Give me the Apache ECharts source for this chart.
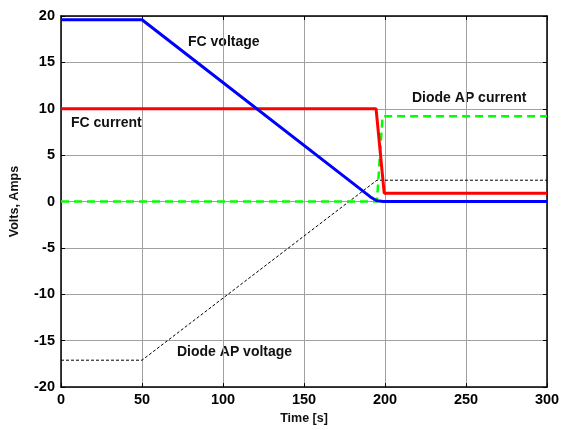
<!DOCTYPE html>
<html>
<head>
<meta charset="utf-8">
<script src="https://cdn.jsdelivr.net/npm/echarts@6/dist/echarts.min.js"></script>
<style>html,body{margin:0;padding:0;background:#fff}#c{width:566px;height:430px}</style>
</head>
<body>
<div id="c"></div>
<script>
var xTicks = [0, 50, 100, 150, 200, 250, 300];
var yTicks = [-20, -15, -10, -5, 0, 5, 10, 15, 20];
var fcVoltage = [[0, 19.6], [50, 19.6], [191, 0.5], [195, 0.08], [199, 0], [300, 0]];
var fcCurrent = [[0, 10], [194.5, 10], [199.5, 0.9], [300, 0.9]];
var diodeCurrent = [[0, 0], [195, 0], [196.5, 4], [198.5, 9.2], [300, 9.2]];
var diodeVoltage = [[0, -17.1], [50, -17.1], [195, 2.3], [300, 2.3]];
var labels = ['FC voltage', 'FC current', 'Diode AP current', 'Diode AP voltage'];

var chart = echarts.init(document.getElementById('c'), null, {renderer: 'canvas'});
var F = 'Arial, "Liberation Sans", sans-serif';
function lbl(text, x, y) {
  return {type: 'text', left: x, top: y - 9, style: {text: text, font: 'bold 14px ' + F, fill: '#111'}};
}
chart.setOption({
  animation: false,
  grid: {left: 59, right: 19, top: 16, bottom: 41},
  xAxis: [{
    type: 'value', min: xTicks[0], max: xTicks[xTicks.length - 1], interval: 50,
    name: 'Time [s]', nameLocation: 'middle', nameGap: 23,
    nameTextStyle: {fontFamily: F, fontWeight: 'bold', fontSize: 12.5, color: '#111'},
    axisLine: {onZero: false, lineStyle: {color: '#000', width: 1.5}},
    axisTick: {inside: true, length: 4, lineStyle: {color: '#000'}},
    axisLabel: {fontFamily: F, fontWeight: 'bold', fontSize: 14.5, color: '#000', margin: 5},
    splitLine: {show: true, lineStyle: {color: '#a0a0a0', width: 1}}
  }, {
    type: 'value', min: 0, max: 300, interval: 50, position: 'top',
    axisLine: {onZero: false, lineStyle: {color: '#000', width: 1.5}},
    axisTick: {inside: true, length: 4, lineStyle: {color: '#000'}},
    axisLabel: {show: false}, splitLine: {show: false}
  }],
  yAxis: [{
    type: 'value', min: yTicks[0], max: yTicks[yTicks.length - 1], interval: 5,
    name: 'Volts, Amps', nameLocation: 'middle', nameGap: 40, nameRotate: 90,
    nameTextStyle: {fontFamily: F, fontWeight: 'bold', fontSize: 12.5, color: '#111'},
    axisLine: {onZero: false, lineStyle: {color: '#000', width: 1.5}},
    axisTick: {inside: true, length: 4, lineStyle: {color: '#000'}},
    axisLabel: {fontFamily: F, fontWeight: 'bold', fontSize: 14.5, color: '#000', margin: 6},
    splitLine: {show: true, lineStyle: {color: '#a0a0a0', width: 1}}
  }, {
    type: 'value', min: -20, max: 20, interval: 5, position: 'right',
    axisLine: {onZero: false, lineStyle: {color: '#000', width: 1.5}},
    axisTick: {inside: true, length: 4, lineStyle: {color: '#000'}},
    axisLabel: {show: false}, splitLine: {show: false}
  }],
  series: [
    {type: 'line', name: 'Diode AP voltage', data: diodeVoltage, showSymbol: false, z: 2,
     lineStyle: {color: '#000', width: 1, type: [3, 2]}},
    {type: 'line', name: 'Diode AP current', data: diodeCurrent, showSymbol: false, z: 3,
     lineStyle: {color: '#00ff00', width: 2.5, type: [8, 5]}},
    {type: 'line', name: 'FC current', data: fcCurrent, showSymbol: false, z: 4,
     lineStyle: {color: '#ff0000', width: 3}},
    {type: 'line', name: 'FC voltage', data: fcVoltage, showSymbol: false, z: 5,
     lineStyle: {color: '#0000ff', width: 3}}
  ],
  graphic: [
    lbl(labels[0], 188, 44),
    lbl(labels[1], 71, 125),
    lbl(labels[2], 412, 100),
    lbl(labels[3], 177, 354)
  ]
});
</script>
</body>
</html>
